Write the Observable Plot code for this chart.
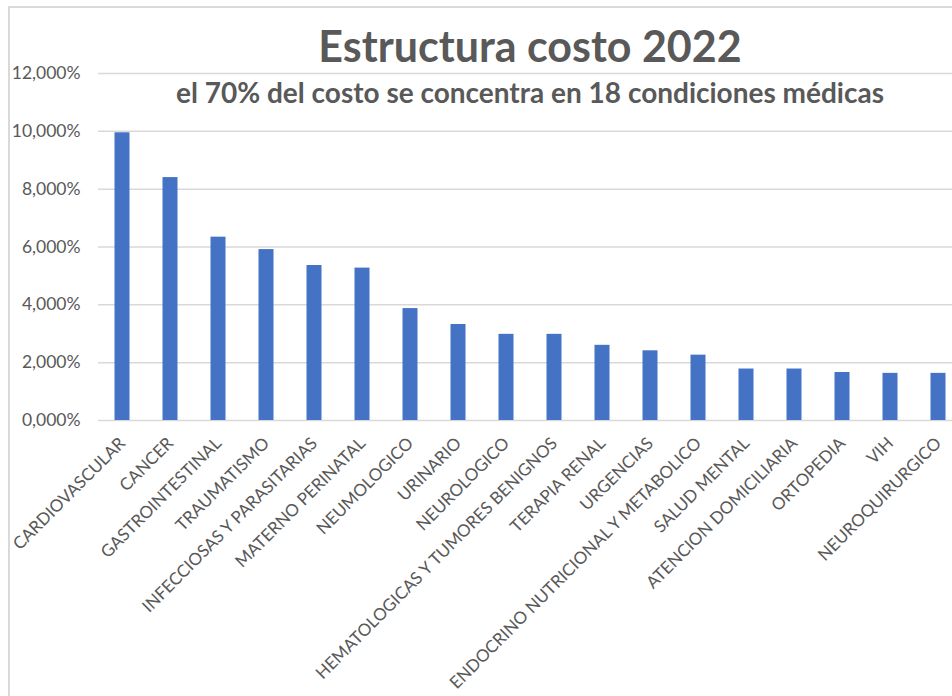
<!DOCTYPE html>
<html>
<head>
<meta charset="utf-8">
<script src="https://cdn.jsdelivr.net/npm/d3@7"></script>
<script src="https://cdn.jsdelivr.net/npm/@observablehq/plot@0.6"></script>
<style>
  html, body { margin: 0; padding: 0; background: #fff; overflow: hidden; width: 952px; height: 696px; }
  #wrap { position: relative; width: 952px; height: 696px; }
  #frame { position: absolute; left: 8px; top: 6px; width: 1000px; height: 800px; border: 2px solid #d9d9d9; box-sizing: border-box; }
  #chart { position: absolute; left: 0; top: 0; }
  .ttl { position: absolute; left: 0; width: 1060px; text-align: center; color: #595959; font-family: Lato, "Open Sans", sans-serif; font-weight: bold; white-space: nowrap; line-height: normal; }
  #title { top: 20px; font-size: 43px; }
  #subtitle { top: 75px; font-size: 28px; }
</style>
</head>
<body>
<div id="wrap">
  <div id="frame"></div>
  <div id="chart"></div>
  <div class="ttl" id="title">Estructura costo 2022</div>
  <div class="ttl" id="subtitle">el 70% del costo se concentra en 18 condiciones médicas</div>
</div>
<script>
const categories = [
  "CARDIOVASCULAR", "CANCER", "GASTROINTESTINAL", "TRAUMATISMO",
  "INFECCIOSAS Y PARASITARIAS", "MATERNO PERINATAL", "NEUMOLOGICO", "URINARIO",
  "NEUROLOGICO", "HEMATOLOGICAS Y TUMORES BENIGNOS", "TERAPIA RENAL", "URGENCIAS",
  "ENDOCRINO NUTRICIONAL Y METABOLICO", "SALUD MENTAL", "ATENCION DOMICILIARIA",
  "ORTOPEDIA", "VIH", "NEUROQUIRURGICO"
];
const values = [9.95, 8.40, 6.34, 5.91, 5.36, 5.27, 3.87, 3.32, 2.98, 2.98, 2.60, 2.41, 2.26, 1.78, 1.78, 1.66, 1.63, 1.63];
const yTicks = [0, 2, 4, 6, 8, 10, 12];

const data = categories.map((c, i) => ({category: c, value: values[i]}));
const fmt = d => d.toFixed(3).replace(".", ",") + "%";

const plot = Plot.plot({
  width: 952,
  height: 696,
  marginTop: 73,
  marginBottom: 276,
  marginLeft: 98,
  marginRight: 0,
  style: {fontFamily: "Lato, sans-serif", color: "#595959", background: "transparent", overflow: "visible"},
  x: {domain: categories, range: [98, 962], padding: 0, label: null},
  y: {domain: [0, 12], label: null},
  marks: [
    Plot.ruleY(yTicks, {stroke: "#d9d9d9", strokeWidth: 1.5, strokeOpacity: 1}),
    Plot.barY(data, {x: "category", y: "value", fill: "#4472c4", insetLeft: 16.5, insetRight: 16.5}),
    Plot.axisY({ticks: yTicks, tickFormat: fmt, tickSize: 0, tickPadding: 18, fontSize: 17.5, fill: "#595959"}),
    Plot.axisX({tickRotate: -45, tickSize: 0, tickPadding: 20, fontSize: 17, fill: "#595959"})
  ]
});
document.getElementById("chart").appendChild(plot);
</script>
</body>
</html>
